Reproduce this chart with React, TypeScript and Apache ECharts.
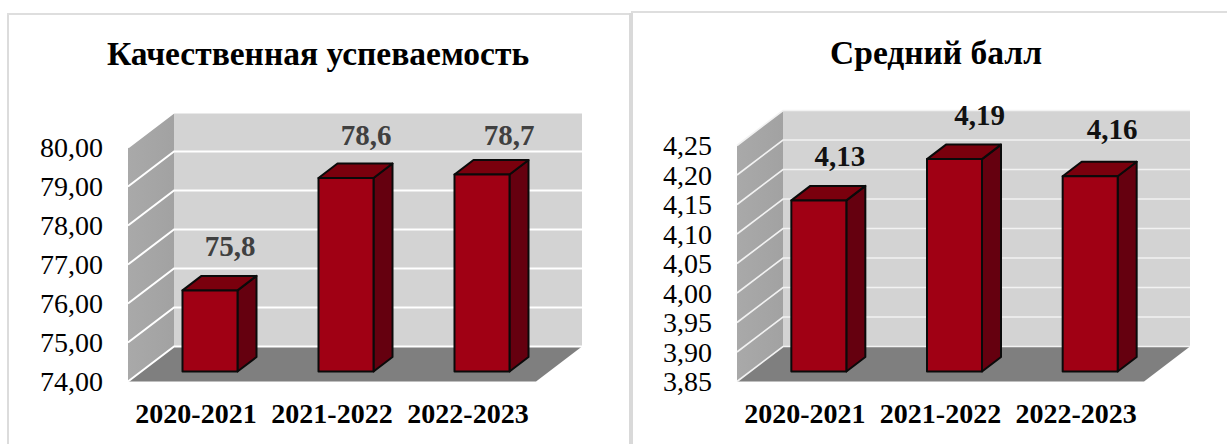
import React, { useEffect, useRef } from "react";
import * as echarts from "echarts";

const categories = ["2020-2021", "2021-2022", "2022-2023"];

const leftTitle = "Качественная успеваемость";
const leftTicks = [74, 75, 76, 77, 78, 79, 80];
const leftBars = [76.08, 78.96, 79.05];
const leftLabels = ["75,8", "78,6", "78,7"];

const rightTitle = "Средний балл";
const rightTicks = [3.85, 3.9, 3.95, 4.0, 4.05, 4.1, 4.15, 4.2, 4.25];
const rightBars = [4.14, 4.21, 4.181];
const rightLabels = ["4,13", "4,19", "4,16"];

const FONT = '"Liberation Serif", "Times New Roman", serif';
const DEPTH_X = 46;
const DEPTH_Y = 35;
const BAR_OFF_X = 14;
const BAR_OFF_Y = 10;
const BAR_DX = 19;
const BAR_DY = 14.5;
const BAR_W = 55;

function wallsItem(params: any) {
  const { x, y, width: w, height: h } = params.coordSys;
  const b = y + h;
  return {
    type: "group",
    children: [
      {
        type: "polygon",
        shape: { points: [[x + DEPTH_X, y - DEPTH_Y], [x + DEPTH_X + w, y - DEPTH_Y], [x + DEPTH_X + w, b - DEPTH_Y], [x + DEPTH_X, b - DEPTH_Y]] },
        style: { fill: "#d3d3d3" },
      },
      {
        type: "polygon",
        shape: { points: [[x, y], [x + DEPTH_X, y - DEPTH_Y], [x + DEPTH_X, b - DEPTH_Y], [x, b]] },
        style: {
          fill: new echarts.graphic.LinearGradient(0, 0, 1, 0, [
            { offset: 0, color: "#a9a9a9" },
            { offset: 1, color: "#a2a2a2" },
          ]),
        },
      },
      {
        type: "polygon",
        shape: { points: [[x, b], [x + DEPTH_X, b - DEPTH_Y], [x + DEPTH_X + w, b - DEPTH_Y], [x + w, b]] },
        style: { fill: "#7f7f7f" },
      },
    ],
  };
}

function gridLineItem(stroke: string, lineWidth: number) {
  return (params: any, api: any) => {
    const { x, width: w } = params.coordSys;
    const y = api.coord([0, api.value(1)])[1];
    return {
      type: "polyline",
      shape: { points: [[x, y], [x + DEPTH_X, y - DEPTH_Y], [x + DEPTH_X + w, y - DEPTH_Y]] },
      style: { stroke, lineWidth, fill: "none" },
    };
  };
}

function barItem(labels: string[], color: string, nudges: number[][]) {
  return (_params: any, api: any) => {
    const i = api.value(0);
    const top = api.coord([i, api.value(1)]);
    const x0 = top[0] + BAR_OFF_X - BAR_W / 2;
    const x1 = x0 + BAR_W;
    const yt = top[1] - BAR_OFF_Y;
    const yb = api.coord([i, api.value(2)])[1] - BAR_OFF_Y;
    const edge = { stroke: "#0a0a0a", lineWidth: 2, lineJoin: "round" };
    return {
      type: "group",
      children: [
        {
          type: "polygon",
          shape: { points: [[x1, yt], [x1 + BAR_DX, yt - BAR_DY], [x1 + BAR_DX, yb - BAR_DY], [x1, yb]] },
          style: { fill: "#65000f", ...edge },
        },
        {
          type: "polygon",
          shape: { points: [[x0, yt], [x0 + BAR_DX, yt - BAR_DY], [x1 + BAR_DX, yt - BAR_DY], [x1, yt]] },
          style: { fill: "#7a000d", ...edge },
        },
        {
          type: "polygon",
          shape: { points: [[x0, yt], [x1, yt], [x1, yb], [x0, yb]] },
          style: { fill: "#a00014", ...edge },
        },
        {
          type: "text",
          style: {
            text: labels[i],
            x: top[0] + nudges[i][0],
            y: yt - BAR_DY + nudges[i][1],
            align: "center",
            verticalAlign: "middle",
            fontSize: 29,
            fontWeight: "bold",
            fontFamily: FONT,
            fill: color,
          },
        },
      ],
    };
  };
}

function axisPair(gridIndex: number, ticks: number[], interval: number) {
  const axisLabel = { fontFamily: FONT, color: "#000000" };
  return {
    xAxis: {
      type: "category",
      gridIndex,
      data: categories,
      axisLine: { show: false },
      axisTick: { show: false },
      splitLine: { show: false },
      axisLabel: { ...axisLabel, fontSize: 28, fontWeight: "bold", margin: 18, interval: 0 },
    },
    yAxis: {
      type: "value",
      gridIndex,
      min: ticks[0],
      max: ticks[ticks.length - 1],
      interval,
      axisLine: { show: false },
      axisTick: { show: false },
      splitLine: { show: false },
      axisLabel: {
        ...axisLabel,
        fontSize: 28,
        margin: 25,
        formatter: (v: number) => v.toFixed(2).replace(".", ","),
      },
    },
  };
}

function seriesFor(gridIndex: number, ticks: number[], bars: number[], labels: string[], color: string, nudges: number[][], line: string, lineW: number) {
  const axes = { xAxisIndex: gridIndex, yAxisIndex: gridIndex, coordinateSystem: "cartesian2d" };
  return [
    { type: "custom", ...axes, z: 1, silent: true, clip: false, renderItem: wallsItem, data: [[0, ticks[0]]] },
    { type: "custom", ...axes, z: 2, silent: true, clip: false, renderItem: gridLineItem(line, lineW), data: ticks.map((t) => [0, t]) },
    {
      type: "custom",
      ...axes,
      z: 3,
      silent: true,
      clip: false,
      renderItem: barItem(labels, color, nudges),
      data: bars.map((v, i) => [i, v, ticks[0]]),
    },
  ];
}

export default function App() {
  const ref = useRef<HTMLDivElement>(null);
  useEffect(() => {
    document.body.style.margin = "0";
    const chart = echarts.init(ref.current!, undefined, { renderer: "svg" });
    const L = axisPair(0, leftTicks, 1);
    const R = axisPair(1, rightTicks, 0.05);
    const titleStyle = { fontFamily: FONT, fontSize: 33.5, fontWeight: "bold", color: "#000000" };
    chart.setOption({
      animation: false,
      backgroundColor: "#ffffff",
      title: [
        { text: leftTitle, left: 313, top: 31, textAlign: "center", textStyle: titleStyle },
        { text: rightTitle, left: 931, top: 30, textAlign: "center", textStyle: titleStyle },
      ],
      grid: [
        { left: 128, top: 147.5, width: 408, height: 234, containLabel: false },
        { left: 737, top: 145.5, width: 407, height: 236, containLabel: false },
      ],
      xAxis: [L.xAxis, R.xAxis],
      yAxis: [L.yAxis, R.yAxis],
      series: [
        ...seriesFor(0, leftTicks, leftBars, leftLabels, "#404040", [[34, -30], [34, -29], [41, -25]], "#ffffff", 2),
        ...seriesFor(1, rightTicks, rightBars, rightLabels, "#111111", [[35, -30], [39, -30], [36, -33]], "#f2f2f2", 1.7),
      ],
      graphic: [
        { type: "rect", silent: true, shape: { x: 7, y: 13, width: 2, height: 431 }, style: { fill: "#dcdcdc" } },
        { type: "rect", silent: true, shape: { x: 7, y: 13, width: 622, height: 2 }, style: { fill: "#dedede" } },
        { type: "rect", silent: true, shape: { x: 629, y: 13, width: 4, height: 431 }, style: { fill: "#d9d9d9" } },
        { type: "rect", silent: true, shape: { x: 631, y: 11, width: 596, height: 2 }, style: { fill: "#dedede" } },
      ],
    });
    return () => chart.dispose();
  }, []);
  return <div ref={ref} style={{ width: 1227, height: 444 }} />;
}
